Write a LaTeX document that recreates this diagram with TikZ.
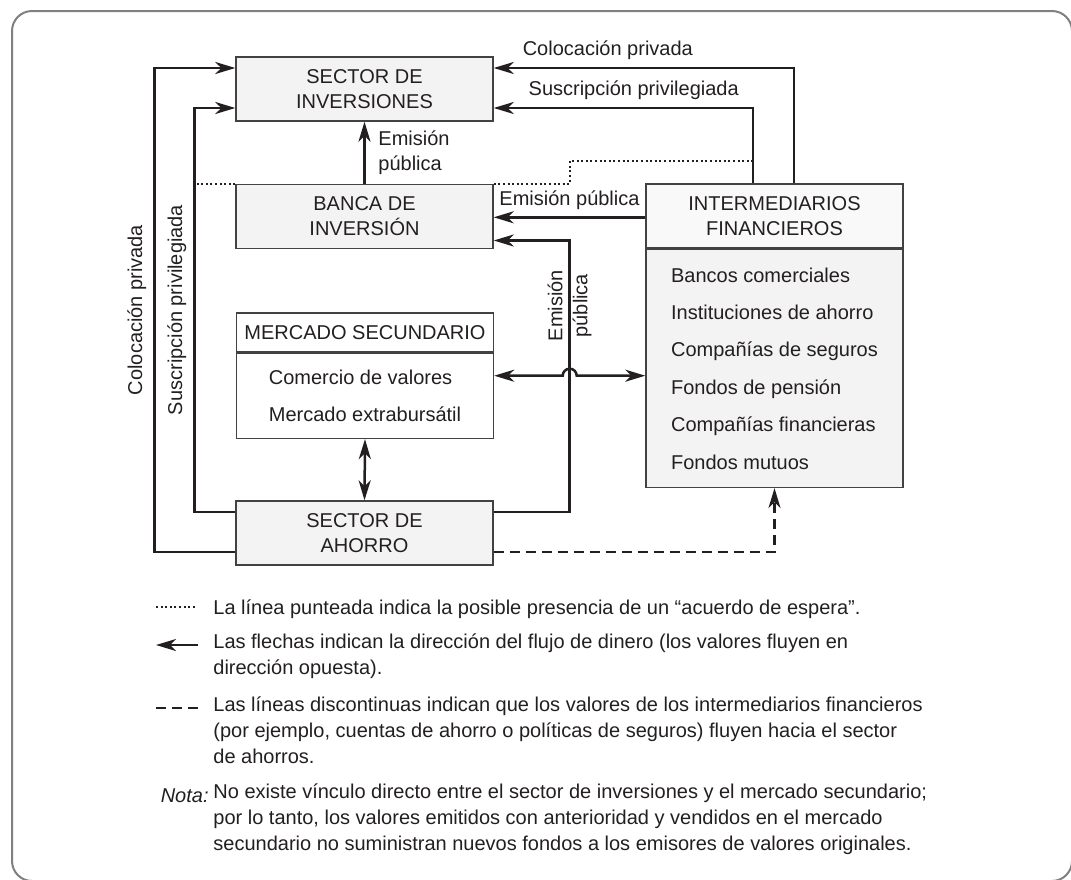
\documentclass[tikz,border=0pt]{standalone}
\usepackage{fontspec}
\setmainfont{Liberation Sans}
\usetikzlibrary{calc, positioning, arrows.meta}
\definecolor{ink}{RGB}{35,31,32}
\definecolor{boxfill}{RGB}{244,243,243}
\definecolor{headfill}{RGB}{249,249,249}
\definecolor{framegray}{RGB}{128,128,128}
\tikzstyle{sector} = [
rectangle,
draw=ink!85,
line width=0.7pt,
fill=boxfill,
minimum width=128.5pt,
minimum height=32pt,
inner sep=2pt,
align=center
]
\tikzstyle{header} = [
sector,
fill=headfill
]
\tikzstyle{listbox} = [
rectangle,
draw=ink!85,
line width=0.7pt,
minimum width=128.5pt,
align=left,
font=\fontsize{10}{18.7}\selectfont
]
\tikzstyle{arrow}=[draw=ink, line width=1.25pt, ->, >={Stealth[length=10pt, width=6pt, inset=3pt]}]
\tikzstyle{twoway}=[arrow, <->]
\tikzstyle{standby}=[draw=ink, line width=1pt, dash pattern=on 1pt off 1.3pt]
\tikzstyle{dashedflow}=[arrow, dash pattern=on 5pt off 3pt]
\tikzstyle{legend}=[anchor=north west, inner sep=0pt, align=left, font=\fontsize{10}{13}\selectfont, execute at begin node=\strut]

\begin{document}
\begin{tikzpicture}[x=0.5pt, y=-0.5pt, font=\fontsize{10}{12.5}\selectfont, text=ink]
        
        \useasboundingbox (0,0) rectangle (1071,879);
        \draw [framegray, line width=1pt, rounded corners=10pt] (12,11) rectangle (1072,881);
        
        \node (inversiones) [sector] at (364.5,89) {SECTOR DE\\INVERSIONES};
        
        \node (banca) [sector] at (364.5,216.5) {BANCA DE\\INVERSIÓN};
        
        \node (mercadohead) [header, fill=white, minimum height=19.5pt] at (365,332.5)
        {MERCADO SECUNDARIO};
        
        \node (mercado) [listbox, below=0pt of mercadohead, minimum height=42.5pt]
        {Comercio de valores\\Mercado extrabursátil};
        
        \node (ahorro) [sector] at (364.5,533) {SECTOR DE\\AHORRO};
        
        \node (intermedhead) [header] at (774.5,216) {INTERMEDIARIOS\\FINANCIEROS};
        
        \node (intermed) [listbox, fill=boxfill, below=0pt of intermedhead, minimum height=119pt]
        {Bancos comerciales\\Instituciones de ahorro\\Compañías de seguros\\Fondos de pensión\\Compañías financieras\\Fondos mutuos};
        
        \coordinate (emision) at ([xshift=38pt, yshift=10.5pt]ahorro.east);
        \coordinate (pubin) at ([yshift=-17pt]intermedhead.north west);
        \coordinate (trade) at ($(mercadohead.north east)!0.5!(mercado.south east)$);
        
        \draw [standby] (banca.north west) -- ++(-41,0);
        
        \draw [standby] (banca.north east) -- ++(76,0) -- ++(0,-23) -- ++(184,0);
        
        \draw [arrow] ([yshift=-9.5pt]ahorro.west) -- ++(-81,0)
        |- node[pos=0.25, above, sloped]{Colocación privada} ([yshift=10.5pt]inversiones.west);
        
        \draw [arrow] ([yshift=10.5pt]ahorro.west) -- ++(-41,0)
        |- node[pos=0.25, above, sloped]{Suscripción privilegiada} ([yshift=-9.5pt]inversiones.west);
        
        \draw [arrow] ([xshift=9.75pt]intermedhead.north)
        |- node[pos=0.81, above]{Colocación privada} ([yshift=10.5pt]inversiones.east);
        
        \draw [arrow] ([xshift=-10.75pt]intermedhead.north)
        |- node[pos=0.73, above]{Suscripción privilegiada} ([yshift=-9.5pt]inversiones.east);
        
        \draw [arrow] (banca)--node[right, xshift=3pt, align=left]{Emisión\\pública}(inversiones);
        
        \draw [arrow] (pubin)--node[above]{Emisión pública}(pubin -| banca.east);
        
        \draw [arrow] ([yshift=10.5pt]ahorro.east) -- (emision)
        |- node[pos=0.38, sloped, align=center]{Emisión\\pública} ([yshift=-12pt]banca.east);
        
        \draw [twoway] (trade) -- ($(trade -| emision)+(-7,0)$)
        arc[start angle=180, end angle=0, radius=3.5pt] -- (trade -| intermed.west);
        
        \draw [twoway] (mercado.south)--(ahorro.north);
        
        \draw [dashedflow] ([yshift=-9.5pt]ahorro.east) -| (intermed.south);
        
        \draw [standby] (156,607) -- (197,607);
        \draw [arrow] (198,645) -- (156,645);
        \draw [dashedflow, -] (156,708) -- (198,708);
        
        \node (note1) [legend] at (213,595.8)
        {La línea punteada indica la posible presencia de un “acuerdo de espera”.};
        
        \node (note2) [legend] at (213,633.8)
        {Las flechas indican la dirección del flujo de dinero (los valores fluyen en\\dirección opuesta).};
        
        \node (note3) [legend] at (213,696.8)
        {Las líneas discontinuas indican que los valores de los intermediarios financieros\\(por ejemplo, cuentas de ahorro o políticas de seguros) fluyen hacia el sector\\de ahorros.};
        
        \node (notalabel) [legend, anchor=north east] at (209,783.8) {\itshape Nota:};
        
        \node (note4) [legend] at (213,783.8)
        {No existe vínculo directo entre el sector de inversiones y el mercado secundario;\\por lo tanto, los valores emitidos con anterioridad y vendidos en el mercado\\secundario no suministran nuevos fondos a los emisores de valores originales.};
        
        \end{tikzpicture}
\end{document}
